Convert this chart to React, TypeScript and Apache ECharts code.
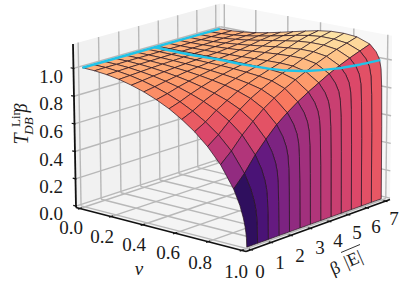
import React, { useEffect, useRef } from "react";
import * as echarts from "echarts";

const vTicks = [0, 0.2, 0.4, 0.6, 0.8, 1.0];
const bTicks = [0, 1, 2, 3, 4, 5, 6, 7];
const zTicks = [0, 0.2, 0.4, 0.6, 0.8, 1.0];

const vGrid = [0, 0.0769, 0.1538, 0.2308, 0.3077, 0.3846, 0.4615, 0.5385, 0.6154, 0.6923, 0.7692, 0.8462, 0.9231, 0.96, 0.98, 0.99, 0.995, 0.998, 1];
const bGrid = [0, 0.538, 1.077, 1.615, 2.154, 2.692, 3.231, 3.769, 4.308, 4.846, 5.385, 5.923, 6.462, 7];
const zRows = [
  [1, 1, 1, 1, 1, 1, 1, 1, 1, 1, 1, 1, 1, 1],
  [0.997, 0.998, 0.998, 0.999, 0.999, 0.999, 1.0, 1.0, 1.0, 1.001, 1.001, 1.002, 1.003, 1.003],
  [0.988, 0.99, 0.993, 0.995, 0.996, 0.998, 0.999, 1.0, 1.001, 1.003, 1.005, 1.008, 1.01, 1.011],
  [0.973, 0.978, 0.983, 0.988, 0.992, 0.995, 0.998, 1.001, 1.003, 1.008, 1.012, 1.018, 1.022, 1.024],
  [0.951, 0.96, 0.97, 0.978, 0.985, 0.991, 0.996, 1.001, 1.005, 1.013, 1.021, 1.03, 1.038, 1.041],
  [0.923, 0.936, 0.952, 0.965, 0.977, 0.986, 0.994, 1.001, 1.008, 1.02, 1.032, 1.046, 1.056, 1.062],
  [0.887, 0.906, 0.93, 0.949, 0.966, 0.98, 0.992, 1.002, 1.011, 1.029, 1.044, 1.062, 1.076, 1.084],
  [0.843, 0.869, 0.901, 0.928, 0.952, 0.971, 0.988, 1.002, 1.015, 1.037, 1.056, 1.078, 1.096, 1.106],
  [0.788, 0.823, 0.867, 0.902, 0.935, 0.96, 0.982, 1.001, 1.019, 1.044, 1.067, 1.093, 1.113, 1.126],
  [0.722, 0.767, 0.824, 0.87, 0.912, 0.944, 0.973, 0.998, 1.021, 1.049, 1.075, 1.101, 1.123, 1.139],
  [0.639, 0.697, 0.768, 0.827, 0.88, 0.922, 0.958, 0.989, 1.018, 1.049, 1.075, 1.101, 1.122, 1.142],
  [0.533, 0.604, 0.691, 0.763, 0.828, 0.879, 0.923, 0.962, 0.997, 1.031, 1.061, 1.088, 1.111, 1.134],
  [0.385, 0.469, 0.573, 0.658, 0.736, 0.796, 0.849, 0.895, 0.937, 0.978, 1.013, 1.045, 1.073, 1.1],
  [0.28, 0.371, 0.484, 0.576, 0.66, 0.725, 0.782, 0.832, 0.877, 0.921, 0.959, 0.994, 1.025, 1.054],
  [0.199, 0.294, 0.411, 0.507, 0.595, 0.663, 0.722, 0.774, 0.821, 0.867, 0.907, 0.943, 0.975, 1.006],
  [0.141, 0.235, 0.351, 0.446, 0.533, 0.6, 0.659, 0.711, 0.757, 0.803, 0.842, 0.878, 0.909, 0.94],
  [0.1, 0.183, 0.286, 0.37, 0.447, 0.506, 0.559, 0.604, 0.645, 0.686, 0.72, 0.752, 0.78, 0.807],
  [0.063, 0.118, 0.184, 0.239, 0.289, 0.328, 0.362, 0.392, 0.418, 0.445, 0.467, 0.488, 0.506, 0.524],
  [0, 0, 0, 0, 0, 0, 0, 0, 0, 0, 0, 0, 0, 0],
];
const lastGridRow = 12;
const edgeV = [0, 0, 0, 0];
const edgeB = [0, 2.4, 4.8, 7];
const contourV = [0, 0.2308, 0.3846, 0.5385, 0.6154, 0.6923, 0.7692, 0.8462, 0.9231, 0.96, 0.98, 0.985];
const contourB = [3.6, 3.6, 3.69, 3.69, 3.74, 3.81, 3.97, 4.35, 5.18, 6.03, 6.9, 7];

const magma = ["#000004", "#140e36", "#3b0f70", "#641a80", "#8c2981", "#b73779", "#de4968", "#f7705c", "#fe9f6d", "#fecf92", "#fcfdbf"];

const vLim = [-0.025, 1.025];
const bLim = [-0.25, 7.25];
const zLim = [-0.01, 1.174];
const cornerA = [76, 207.5];
const cornerB = [246, 251.5];
const cornerC = [390, 199.5];
const cornerD = [221, 160];
const cornerTop = [73, 44];
const wz = -0.016;

const SERIF = "Liberation Serif";

function makeProjector() {
  const [x0, y0] = cornerA, [x1, y1] = cornerB, [x2, y2] = cornerC, [x3, y3] = cornerD;
  const dx1 = x1 - x2, dx2 = x3 - x2, sx = x0 - x1 + x2 - x3;
  const dy1 = y1 - y2, dy2 = y3 - y2, sy = y0 - y1 + y2 - y3;
  const den = dx1 * dy2 - dx2 * dy1;
  const g = (sx * dy2 - dx2 * sy) / den;
  const h = (dx1 * sy - sx * dy1) / den;
  const a = x1 - x0 + g * x1, b = x3 - x0 + h * x3;
  const d = y1 - y0 + g * y1, e = y3 - y0 + h * y3;
  const ax = cornerTop[0] * (1 + wz) - x0;
  const ay = cornerTop[1] * (1 + wz) - y0;
  return (v: number, bb: number, z: number) => {
    const u = (v - vLim[0]) / (vLim[1] - vLim[0]);
    const t = (bb - bLim[0]) / (bLim[1] - bLim[0]);
    const s = (z - zLim[0]) / (zLim[1] - zLim[0]);
    const w = g * u + h * t + 1 + wz * s;
    return [(a * u + b * t + x0 + ax * s) / w, (d * u + e * t + y0 + ay * s) / w];
  };
}
const project = makeProjector();

function surfaceCells() {
  const cells: number[][] = [];
  for (let i = 0; i <= lastGridRow; i++) {
    for (let j = bGrid.length - 2; j >= 0; j--) cells.push([i, j]);
  }
  return cells;
}

function cellRows(i: number) {
  if (i < lastGridRow) return [i, i + 1];
  const rows: number[] = [];
  for (let r = lastGridRow; r < vGrid.length; r++) rows.push(r);
  return rows;
}

export default function App() {
  const ref = useRef<HTMLDivElement>(null);
  useEffect(() => {
    document.body.style.margin = "0";
    const chart = echarts.init(ref.current!, null, { renderer: "svg" });
    const P = (api: any, v: number, b: number, z: number) => api.coord(project(v, b, z));
    const line = (api: any, a: number[], b: number[], color: string, width: number) => {
      const p = P(api, a[0], a[1], a[2]);
      const q = P(api, b[0], b[1], b[2]);
      return { type: "line", shape: { x1: p[0], y1: p[1], x2: q[0], y2: q[1] }, style: { stroke: color, lineWidth: width } };
    };
    const poly = (api: any, pts: number[][], fill: string) => ({
      type: "polygon",
      shape: { points: pts.map((q) => P(api, q[0], q[1], q[2])) },
      style: { fill, stroke: "none" },
    });

    const renderPanes = (_: any, api: any) => {
      const [v0, v1] = vLim, [b0, b1] = bLim, [z0, z1] = zLim;
      const children: any[] = [
        poly(api, [[v0, b0, z0], [v0, b1, z0], [v0, b1, z1], [v0, b0, z1]], "#f1f1f1"),
        poly(api, [[v0, b1, z0], [v1, b1, z0], [v1, b1, z1], [v0, b1, z1]], "#f7f7f7"),
        poly(api, [[v0, b0, z0], [v1, b0, z0], [v1, b1, z0], [v0, b1, z0]], "#f4f4f4"),
      ];
      const G = "#b8b8b8";
      bTicks.forEach((b) => {
        children.push(line(api, [v0, b, z0], [v0, b, z1], G, 1.4));
        children.push(line(api, [v0, b, z0], [v1, b, z0], G, 1.4));
      });
      vTicks.forEach((v) => {
        children.push(line(api, [v, b1, z0], [v, b1, z1], G, 1.4));
        children.push(line(api, [v, b0, z0], [v, b1, z0], G, 1.4));
      });
      zTicks.forEach((z) => {
        children.push(line(api, [v0, b0, z], [v0, b1, z], G, 1.4));
        children.push(line(api, [v0, b1, z], [v1, b1, z], G, 1.4));
      });
      return { type: "group", children };
    };

    const renderCell = (_: any, api: any) => {
      const i = api.value(0), j = api.value(1);
      const rows = cellRows(i);
      const pts: number[][] = [];
      rows.forEach((r) => pts.push([vGrid[r], bGrid[j], zRows[r][j]]));
      [...rows].reverse().forEach((r) => pts.push([vGrid[r], bGrid[j + 1], zRows[r][j + 1]]));
      const mean = pts.reduce((s, q) => s + q[2], 0) / pts.length;
      const t = Math.min(1, mean / 1.2);
      const fill = echarts.color.lerp(t, magma);
      return {
        type: "polygon",
        shape: { points: pts.map((q) => P(api, q[0], q[1], q[2])) },
        style: { fill, stroke: "#26121f", lineWidth: 0.7 },
      };
    };

    const renderCyan = (_: any, api: any) => {
      const edge = edgeV.map((v, k) => P(api, v, edgeB[k], 1));
      const cont = contourV.map((v, k) => P(api, v, contourB[k], 1));
      const st = { fill: "none", stroke: "#1fc3e8", lineWidth: 2.4 };
      return {
        type: "group",
        children: [
          { type: "polyline", shape: { points: edge }, style: st },
          { type: "polyline", shape: { points: cont, smooth: 0.3 }, style: st },
        ],
      };
    };

    const text = (x: number, y: number, s: string, size: number, italic = false, rotation = 0) => ({
      type: "text",
      x,
      y,
      rotation,
      style: {
        text: s,
        x: 0,
        y: 0,
        fontFamily: SERIF,
        fontSize: size,
        fontStyle: italic ? "italic" : "normal",
        fill: "#1a1a1a",
        align: "center",
        verticalAlign: "middle",
      },
    });

    const renderAxes = (_: any, api: any) => {
      const [v0, v1] = vLim, [b0, b1] = bLim, [z0, z1] = zLim;
      const K = "#111";
      const children: any[] = [
        line(api, [v0, b0, z0], [v0, b0, z1], K, 1.8),
        line(api, [v0, b0, z0], [v1, b0, z0], K, 1.8),
        line(api, [v1, b0, z0], [v1, b1, z0], K, 1.8),
      ];
      vTicks.forEach((v) => children.push(line(api, [v, b0 - 0.1, z0], [v, b0 + 0.1, z0], K, 1.2)));
      bTicks.forEach((b) => children.push(line(api, [v1 - 0.012, b, z0], [v1 + 0.012, b, z0], K, 1.2)));
      zTicks.forEach((z) => children.push(line(api, [v0 - 0.018, b0, z], [v0 + 0.006, b0, z], K, 1.2)));
      const vPos = [[71, 227], [102, 236], [134, 244], [168, 252], [200, 262], [236, 271]];
      vTicks.forEach((v, k) => children.push(text(vPos[k][0], vPos[k][1], v.toFixed(1), 19)));
      const bPos = [[260, 271], [280, 262], [300, 255], [320, 247], [338, 240], [357, 232], [376, 226], [394, 218]];
      bTicks.forEach((b, k) => children.push(text(bPos[k][0], bPos[k][1], String(b), 19)));
      const zPos = [213, 186, 159, 131, 103, 76];
      zTicks.forEach((z, k) => children.push(text(51, zPos[k], z.toFixed(1), 19)));
      children.push(text(139, 268, "v", 19, true));
      const R = Math.PI / 2;
      children.push(text(21, 139, "T", 20, true, R));
      children.push(text(15, 118, "Lin", 13, false, R));
      children.push(text(28, 126, "DB", 13, true, R));
      children.push(text(21, 108, "β", 18, true, R));
      const rot = 0.41;
      children.push(text(335, 268, "β", 18, false, rot));
      children.push(text(353, 259, "|E|", 18, false, rot));
      children.push({ type: "line", shape: { x1: 341, y1: 252.5, x2: 360, y2: 244.5 }, style: { stroke: "#1a1a1a", lineWidth: 0.9 } });
      return { type: "group", children };
    };

    chart.setOption({
      animation: false,
      grid: { left: 0, right: 0, top: 0, bottom: 0 },
      xAxis: { type: "value", min: 0, max: 408, show: false },
      yAxis: { type: "value", min: 0, max: 288, inverse: true, show: false },
      series: [
        { type: "custom", silent: true, clip: false, data: [[0, 0]], renderItem: renderPanes, z: 1 },
        { type: "custom", silent: true, clip: false, data: [[0, 0]], renderItem: renderAxes, z: 2 },
        { type: "custom", silent: true, clip: false, data: surfaceCells(), renderItem: renderCell, z: 3 },
        { type: "custom", silent: true, clip: false, data: [[0, 0]], renderItem: renderCyan, z: 4 },
      ],
    });
    return () => chart.dispose();
  }, []);
  return <div ref={ref} style={{ width: 408, height: 288 }} />;
}
